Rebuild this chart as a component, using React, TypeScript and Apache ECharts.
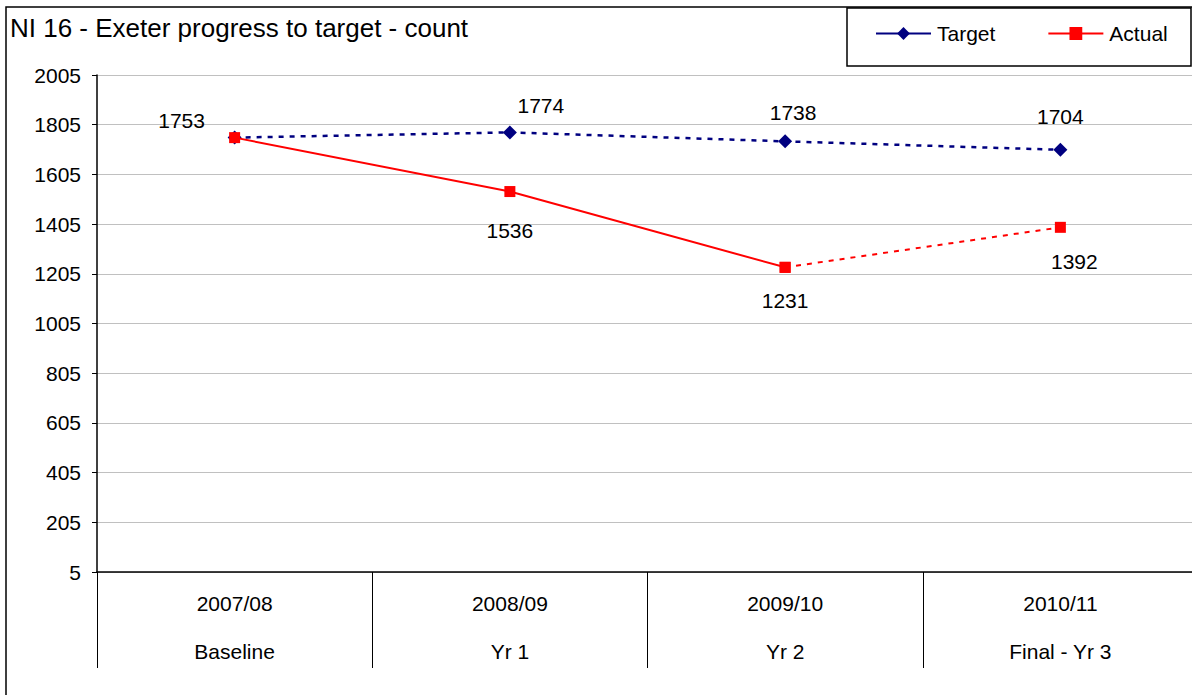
import React, { useEffect, useRef } from "react";
import * as echarts from "echarts";

const categories = ["2007/08", "2008/09", "2009/10", "2010/11"];
const subLabels = ["Baseline", "Yr 1", "Yr 2", "Final - Yr 3"];
const targetValues = [1753, 1774, 1738, 1704];
const actualValues = [1753, 1536, 1231, 1392];
const yMin = 5;
const yMax = 2005;
const yStep = 200;

// label placement (pixel offsets from the marker), kept apart from the data
const targetLabelOffsets = [[-53, -17], [31, -27], [8, -29], [0, -33]];
const actualLabelOffsets = [null, [0, 39], [0, 33], [14, 34]];

const FONT = "'Liberation Sans', Arial, sans-serif";

export default function App() {
  const ref = useRef<HTMLDivElement>(null);
  useEffect(() => {
    if (!ref.current) return;
    const chart = echarts.init(ref.current, undefined, { renderer: "svg" });

    const labelBase = {
      show: true,
      position: "inside",
      color: "#000",
      fontSize: 21,
      fontFamily: FONT,
    };

    const targetData = targetValues.map((v, i) => ({
      value: v,
      label: { ...labelBase, offset: targetLabelOffsets[i], formatter: String(v) },
    }));
    const solidData = actualValues.map((v, i) => {
      if (i > 2) return { value: null };
      const off = actualLabelOffsets[i];
      return {
        value: v,
        label: off ? { ...labelBase, offset: off, formatter: String(v) } : { show: false },
      };
    });
    const dashedData = actualValues.map((v, i) => {
      if (i < 2) return { value: null };
      const off = actualLabelOffsets[i];
      return {
        value: v,
        label: i === 3 && off ? { ...labelBase, offset: off, formatter: String(v) } : { show: false },
      };
    });

    chart.setOption({
      animation: false,
      textStyle: { fontFamily: FONT },
      graphic: [
        {
          type: "rect",
          shape: { x: 6, y: 7, width: 1300, height: 800 },
          style: { fill: "none", stroke: "#000", lineWidth: 1.5 },
          silent: true,
        },
        {
          type: "rect",
          shape: { x: 847, y: 8, width: 344, height: 58 },
          style: { fill: "#fff", stroke: "#000", lineWidth: 1.5 },
          silent: true,
          z: 0,
        },
        {
          type: "text",
          x: 10,
          y: 28,
          style: {
            text: "NI 16 - Exeter progress to target - count",
            font: `26px ${FONT}`,
            fill: "#000",
            textVerticalAlign: "middle",
          },
          silent: true,
        },
      ],
      legend: {
        data: ["Target", "Actual"],
        left: 875,
        top: 23,
        itemWidth: 55,
        itemHeight: 16,
        itemGap: 52,
        padding: 0,
        textStyle: { fontSize: 21, color: "#000", fontFamily: FONT, padding: [0, 0, 0, 1] },
        lineStyle: { type: "solid", width: 2 },
        z: 10,
      },
      grid: { left: 97, right: 0, top: 75, bottom: 123, containLabel: false },
      xAxis: {
        type: "category",
        data: categories,
        boundaryGap: true,
        axisLine: { show: true, lineStyle: { color: "#000", width: 1.5 } },
        axisTick: { show: true, interval: 0, length: 96, lineStyle: { color: "#000", width: 1 } },
        axisLabel: {
          interval: 0,
          margin: 7,
          color: "#000",
          fontSize: 21,
          fontFamily: FONT,
          lineHeight: 48,
          formatter: (val: string, idx: number) => `${val}\n${subLabels[idx]}`,
        },
        splitLine: { show: false },
      },
      yAxis: {
        type: "value",
        min: yMin,
        max: yMax,
        interval: yStep,
        axisLine: { show: true, lineStyle: { color: "#000", width: 1.5 } },
        axisTick: { show: true, length: 5, lineStyle: { color: "#000" } },
        axisLabel: {
          color: "#000",
          fontSize: 21,
          fontFamily: FONT,
          margin: 16,
          formatter: (v: number) => String(v),
        },
        splitLine: { show: true, lineStyle: { color: "#c0c0c0", width: 1 } },
      },
      series: [
        {
          name: "Target",
          type: "line",
          data: targetData,
          symbol: "diamond",
          symbolSize: 14,
          showAllSymbol: true,
          itemStyle: { color: "#000080" },
          lineStyle: { color: "#000080", width: 2.5, type: [5, 6] },
          z: 2,
        },
        {
          name: "Actual",
          type: "line",
          data: solidData,
          symbol: "rect",
          symbolSize: 11,
          showAllSymbol: true,
          itemStyle: { color: "#ff0000" },
          lineStyle: { color: "#ff0000", width: 2, type: "solid" },
          z: 3,
        },
        {
          name: "Actual",
          type: "line",
          data: dashedData,
          symbol: "rect",
          symbolSize: 11,
          showAllSymbol: true,
          itemStyle: { color: "#ff0000" },
          lineStyle: { color: "#ff0000", width: 2, type: [5, 6] },
          z: 3,
        },
      ],
    });
    return () => chart.dispose();
  }, []);
  return (
    <div
      style={{
        position: "absolute",
        left: 0,
        top: 0,
        width: 1192,
        height: 695,
        overflow: "hidden",
      }}
    >
      <div ref={ref} style={{ width: 1198, height: 695 }} />
    </div>
  );
}
